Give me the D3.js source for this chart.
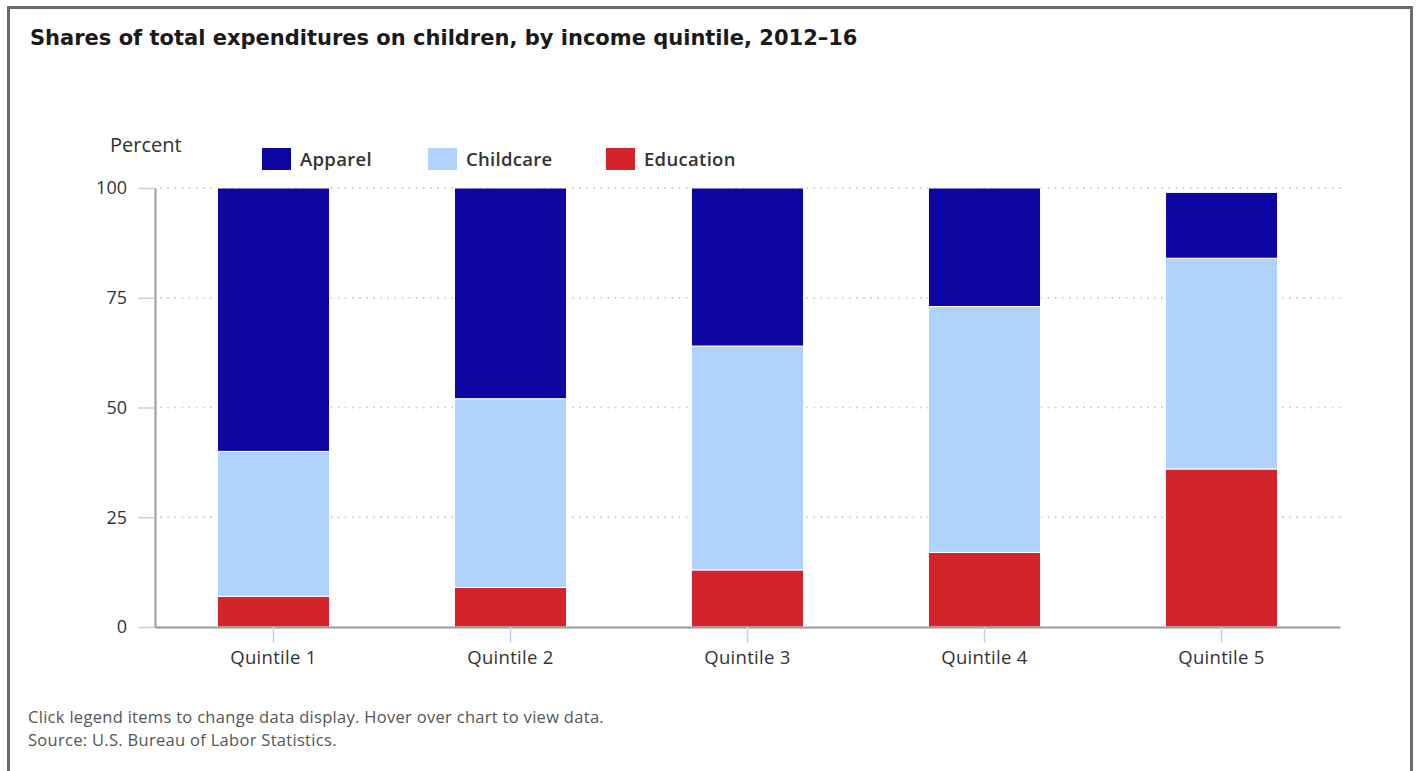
<!DOCTYPE html>
<html>
<head>
<meta charset="utf-8">
<script src="https://cdn.jsdelivr.net/npm/d3@7"></script>
<style>
  html, body { margin: 0; padding: 0; background: #fff; }
  svg { display: block; }
</style>
</head>
<body>
<svg id="chart" width="1417" height="771"></svg>
<script>
// Shares of total expenditures on children, by income quintile (percent)
const categories = ["Quintile 1", "Quintile 2", "Quintile 3", "Quintile 4", "Quintile 5"];
const seriesNames = ["Education", "Childcare", "Apparel"]; // stacked bottom to top
const education = [7, 9, 13, 17, 36];
const childcare = [33, 43, 51, 56, 48];
const apparel = [60, 48, 36, 27, 15];
const yTicks = [0, 25, 50, 75, 100];
const legendOrder = ["Apparel", "Childcare", "Education"];

const colors = { Apparel: "#0e06a2", Childcare: "#b0d3fd", Education: "#d3232b" };

const rows = categories.map((c, i) => ({
  category: c,
  Education: education[i],
  Childcare: childcare[i],
  Apparel: apparel[i]
}));

const svg = d3.select("#chart");

// outer frame
svg.append("rect")
  .attr("x", 8.5).attr("y", 7.5)
  .attr("width", 1403).attr("height", 780)
  .attr("fill", "none")
  .attr("stroke", "#6b6b6b")
  .attr("stroke-width", 3);

// title
svg.append("text")
  .attr("x", 30).attr("y", 45)
  .attr("font-family", "'DejaVu Sans', Verdana, sans-serif")
  .attr("font-weight", "bold")
  .attr("font-size", 21)
  .attr("fill", "#1a1a1a")
  .text("Shares of total expenditures on children, by income quintile, 2012\u201316");

const plot = { left: 155, right: 1340, top: 188, bottom: 627 };

const x = d3.scaleBand()
  .domain(categories)
  .range([plot.left, plot.right])
  .paddingInner(0.527)
  .paddingOuter(0.2635);

const y = d3.scaleLinear()
  .domain([0, 100])
  .range([plot.bottom, plot.top]);

const font = "'Open Sans', sans-serif";

// dotted gridlines
svg.append("g")
  .selectAll("line")
  .data(yTicks.filter(t => t > 0))
  .join("line")
  .attr("x1", plot.left + 6).attr("x2", plot.right)
  .attr("y1", d => y(d)).attr("y2", d => y(d))
  .attr("stroke", "#cfcfcf")
  .attr("stroke-width", 2)
  .attr("stroke-linecap", "round")
  .attr("stroke-dasharray", "0.1,7");

// y axis
const yAxis = svg.append("g")
  .attr("transform", `translate(${plot.left},0)`)
  .call(d3.axisLeft(y).tickValues(yTicks).tickSize(17).tickSizeOuter(0).tickPadding(11).tickFormat(d3.format("d")));
yAxis.select(".domain").attr("stroke", "#9a9a9a").attr("stroke-width", 2);
yAxis.selectAll(".tick line").attr("stroke", "#c4d2e6").attr("stroke-width", 1.5);
yAxis.selectAll(".tick text")
  .attr("font-family", font).attr("font-size", 18).attr("fill", "#333");

// stacked bars
const stack = d3.stack().keys(seriesNames)(rows);
svg.append("g")
  .selectAll("g")
  .data(stack)
  .join("g")
  .attr("fill", d => colors[d.key])
  .selectAll("rect")
  .data(d => d)
  .join("rect")
  .attr("x", d => x(d.data.category))
  .attr("width", x.bandwidth())
  .attr("y", d => y(d[1]))
  .attr("height", d => y(d[0]) - y(d[1]))
  .attr("stroke", "#fff")
  .attr("stroke-width", 1);

// x axis
const xAxis = svg.append("g")
  .attr("transform", `translate(0,${plot.bottom})`)
  .call(d3.axisBottom(x).tickSize(16).tickSizeOuter(0).tickPadding(8));
xAxis.select(".domain").attr("stroke", "#9a9a9a").attr("stroke-width", 2);
xAxis.selectAll(".tick line").attr("stroke", "#c4d2e6").attr("stroke-width", 1.5);
xAxis.selectAll(".tick text")
  .attr("font-family", font).attr("font-size", 18.5).attr("letter-spacing", 0.3).attr("fill", "#333");

// y axis caption
svg.append("text")
  .attr("x", 110).attr("y", 152)
  .attr("font-family", font).attr("font-size", 20).attr("fill", "#333")
  .text("Percent");

// legend
const legendX = { Apparel: 262, Childcare: 428, Education: 606 };
const legend = svg.append("g")
  .selectAll("g")
  .data(legendOrder)
  .join("g")
  .attr("transform", d => `translate(${legendX[d]},148)`);
legend.append("rect")
  .attr("width", 29).attr("height", 22)
  .attr("fill", d => colors[d]);
legend.append("text")
  .attr("x", 38).attr("y", 18)
  .attr("font-family", font).attr("font-weight", 600).attr("font-size", 18.5)
  .attr("letter-spacing", 0.3)
  .attr("fill", "#333")
  .text(d => d);

// footer notes
const notes = [
  "Click legend items to change data display. Hover over chart to view data.",
  "Source: U.S. Bureau of Labor Statistics."
];
svg.append("g")
  .selectAll("text")
  .data(notes)
  .join("text")
  .attr("x", 28)
  .attr("y", (d, i) => 723 + i * 23)
  .attr("font-family", font).attr("font-size", 16.5).attr("letter-spacing", 0.3).attr("fill", "#555")
  .text(d => d);
</script>
</body>
</html>
